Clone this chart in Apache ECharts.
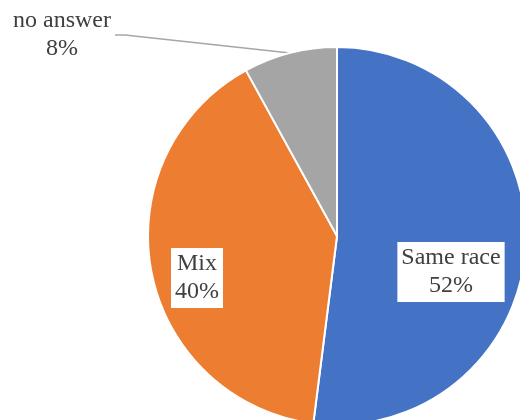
<!DOCTYPE html>
<html>
<head>
<meta charset="utf-8">
<script src="https://cdn.jsdelivr.net/npm/echarts@6/dist/echarts.min.js"></script>
<style>
  html, body { margin: 0; padding: 0; background: #ffffff; }
  #chart { width: 520px; height: 420px; }
</style>
</head>
<body>
<div id="chart"></div>
<script>
// Share of respondents by partner preference
const categories = ['Same race', 'Mix', 'no answer'];
const shares = [52, 40, 8];
const sliceColors = ['#4472C4', '#ED7D31', '#A5A5A5'];

// Where each slice's label box sits (pixel centres)
const labelSpots = [[451, 272], [197, 278], [62, 35]];

const chart = echarts.init(document.getElementById('chart'), null, { renderer: 'canvas' });

chart.setOption({
  animation: false,
  backgroundColor: '#ffffff',
  series: [{
    type: 'pie',
    center: [337, 236],
    radius: 189,
    startAngle: 90,
    clockwise: true,
    avoidLabelOverlap: false,
    itemStyle: { borderColor: '#ffffff', borderWidth: 2 },
    label: {
      show: true,
      position: 'outside',
      formatter: '{b}\n{d}%',
      fontFamily: 'Liberation Serif',
      fontSize: 24,
      lineHeight: 28,
      color: '#404040',
      backgroundColor: '#ffffff',
      padding: [2, 4],
      align: 'center'
    },
    labelLine: {
      show: true,
      length: 10,
      length2: 10,
      lineStyle: { color: '#A6A6A6', width: 1.5 }
    },
    labelLayout: function (params) {
      const p = labelSpots[params.dataIndex];
      return { x: p[0], y: p[1], align: 'center', verticalAlign: 'middle' };
    },
    data: categories.map((name, i) => ({
      name: name,
      value: shares[i],
      itemStyle: { color: sliceColors[i] },
      labelLine: { show: i === 2 }
    }))
  }]
});
</script>
</body>
</html>
